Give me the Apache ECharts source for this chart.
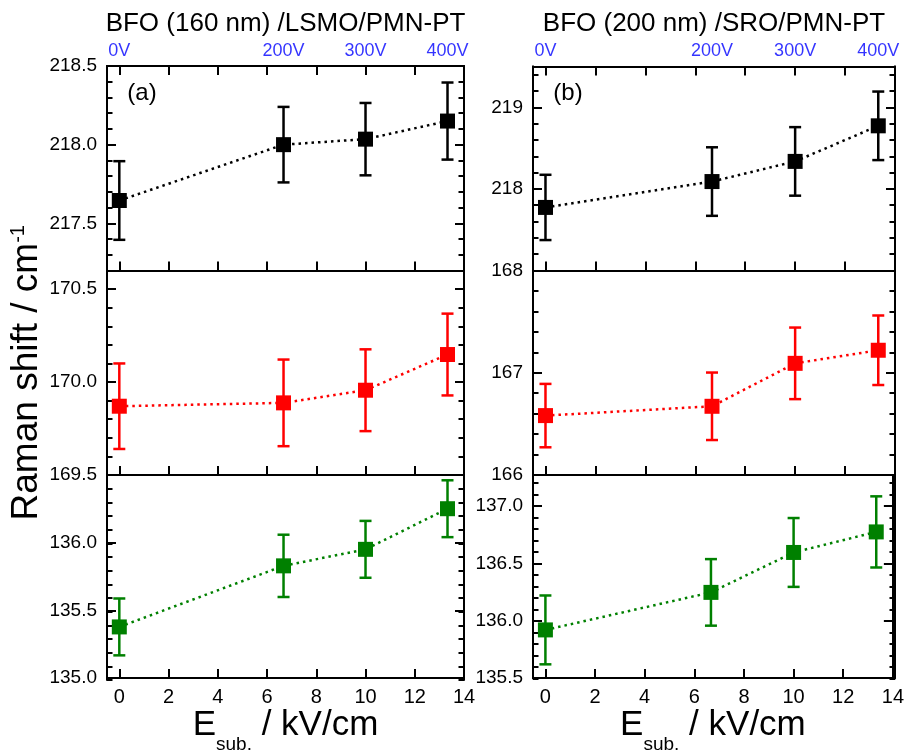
<!DOCTYPE html>
<html><head><meta charset="utf-8">
<script src="https://cdn.jsdelivr.net/npm/echarts@6/dist/echarts.min.js"></script>
<style>html,body{margin:0;padding:0;background:#fff}#c{width:907px;height:755px}</style>
</head><body><div id="c"></div>
<script>
// ---------- data ----------
const xE = [0, 6.67, 10, 13.33];                 // E_sub. (kV/cm)
const vLabels = ['0V', '200V', '300V', '400V'];   // top voltage labels
const xTickLabels = ['0', '2', '4', '6', '8', '10', '12', '14'];

// (a) BFO (160 nm)/LSMO/PMN-PT
const aTopY   = [217.645, 218.0, 218.035, 218.15];
const aTopErr = [0.25, 0.24, 0.23, 0.245];
const aMidY   = [169.87, 169.888, 169.956, 170.148];
const aMidErr = [0.23, 0.233, 0.22, 0.22];
const aBotY   = [135.378, 135.829, 135.951, 136.251];
const aBotErr = [0.21, 0.23, 0.21, 0.21];
// (b) BFO (200 nm)/SRO/PMN-PT
const bTopY   = [217.773, 218.09, 218.337, 218.773];
const bTopErr = [0.40, 0.42, 0.42, 0.42];
const bMidY   = [166.581, 166.672, 167.092, 167.22];
const bMidErr = [0.31, 0.33, 0.35, 0.34];
const bBotY   = [135.92, 136.247, 136.595, 136.774];
const bBotErr = [0.30, 0.29, 0.30, 0.31];

// y tick labels
const aTopTicks = ['217.5', '218.0', '218.5'];
const aMidTicks = ['169.5', '170.0', '170.5'];
const aBotTicks = ['135.0', '135.5', '136.0'];
const bTopTicks = ['218', '219'];
const bMidTicks = ['166', '167', '168'];
const bBotTicks = ['135.5', '136.0', '136.5', '137.0'];

const titles = ['BFO (160 nm) /LSMO/PMN-PT', 'BFO (200 nm) /SRO/PMN-PT'];
const panelTags = ['(a)', '(b)'];

// ---------- layout ----------
const FONT = 'Liberation Sans';
const BLACK = '#000000', RED = '#ff0000', GREEN = '#008000';
const colLeft = [107, 533], colWidth = [357, 362];
const rowTop = [[66, 270.5, 475], [66.5, 270.5, 475]];
const rowH = [[204.5, 204.5, 205], [204, 204.5, 203.5]];

const panels = [
  {col:0,row:0,y:aTopY,err:aTopErr,color:BLACK,min:217.2,max:218.5,split:3,minor:0.1,ticks:aTopTicks,dec:1},
  {col:0,row:1,y:aMidY,err:aMidErr,color:RED,  min:169.5,max:170.6,split:2,minor:0.1,ticks:aMidTicks,dec:1},
  {col:0,row:2,y:aBotY,err:aBotErr,color:GREEN,min:135.0,max:136.5,split:3,minor:0.1,ticks:aBotTicks,dec:1},
  {col:1,row:0,y:bTopY,err:bTopErr,color:BLACK,min:217.0,max:219.5,split:2,minor:0.2,ticks:bTopTicks,dec:0},
  {col:1,row:1,y:bMidY,err:bMidErr,color:RED,  min:166.0,max:168.0,split:2,minor:0.2,ticks:bMidTicks,dec:0},
  {col:1,row:2,y:bBotY,err:bBotErr,color:GREEN,min:135.5,max:137.27,split:3,minor:0.1,ticks:bBotTicks,dec:1}
];

const grid = [], xAxis = [], yAxis = [], series = [];
const lineSt = {color: BLACK, width: 2};

panels.forEach((p) => {
  const L = colLeft[p.col], W = colWidth[p.col], T = rowTop[p.col][p.row], H = rowH[p.col][p.row];
  // main grid
  const gi = grid.length;
  grid.push({left: L, width: W, top: T, height: H});
  const xb = xAxis.length;
  const xBottom = {
    gridIndex: gi, type: 'value', min: -0.5, max: 14, splitNumber: 7, position: 'bottom',
    axisLine: {show: true, onZero: false, lineStyle: lineSt},
    axisTick: {show: true, inside: true, length: 9, lineStyle: lineSt},
    axisLabel: {show: p.row === 2, margin: 9, fontSize: 20, color: BLACK, fontFamily: FONT,
      formatter: v => xTickLabels.includes(String(v)) ? String(v) : ''},
    splitLine: {show: false}
  };
  if (p.row === 2) {
    xBottom.name = '{e|E}{s|sub.}{n| / kV/cm}';
    xBottom.nameLocation = 'middle';
    xBottom.nameGap = 37;
    xBottom.nameTextStyle = {
      rich: {
        e: {fontSize: 35, fontFamily: FONT, color: BLACK, lineHeight: 35, padding: [0, 0, 11, 0], verticalAlign: 'bottom'},
        s: {fontSize: 19, fontFamily: FONT, color: BLACK, lineHeight: 19, verticalAlign: 'bottom'},
        n: {fontSize: 35, fontFamily: FONT, color: BLACK, lineHeight: 35, padding: [0, 0, 11, 0], verticalAlign: 'bottom'}
      }
    };
  }
  xAxis.push(xBottom);
  xAxis.push({
    gridIndex: gi, type: 'value', min: -0.5, max: 14, splitNumber: 7, position: 'top',
    axisLine: {show: true, onZero: false, lineStyle: lineSt},
    axisTick: {show: p.row === 0, inside: true, length: 9, lineStyle: lineSt},
    axisLabel: {show: false}, splitLine: {show: false}
  });
  const yi = yAxis.length;
  const fmt = v => { const s = v.toFixed(p.dec); return p.ticks.includes(s) ? s : ''; };
  const majorL = {
    gridIndex: gi, type: 'value', min: p.min, max: p.max, splitNumber: p.split, position: 'left',
    axisLine: {show: true, onZero: false, lineStyle: lineSt},
    axisTick: {show: true, inside: true, length: 9, lineStyle: lineSt},
    axisLabel: {show: true, margin: 10, fontSize: 19, color: BLACK, fontFamily: FONT, formatter: fmt},
    splitLine: {show: false}
  };
  if (p.col === 0 && p.row === 1) {
    majorL.name = '{a|Raman shift / cm}{b|-1}';
    majorL.nameLocation = 'middle';
    majorL.nameGap = 62;
    majorL.nameTextStyle = {
      rich: {
        a: {fontSize: 37, fontFamily: FONT, color: BLACK, lineHeight: 37, verticalAlign: 'top'},
        b: {fontSize: 20, fontFamily: FONT, color: BLACK, lineHeight: 20, verticalAlign: 'top'}
      }
    };
  }
  yAxis.push(majorL);
  yAxis.push({
    gridIndex: gi, type: 'value', min: p.min, max: p.max, splitNumber: p.split, position: 'right',
    axisLine: {show: true, onZero: false, lineStyle: lineSt},
    axisTick: {show: true, inside: true, length: 9, lineStyle: lineSt},
    axisLabel: {show: false}, splitLine: {show: false}
  });

  // minor ticks: narrow helper grids placed just outside each panel edge,
  // whose axis ticks point outward (i.e. into the panel)
  [[L - 10, 'right'], [L + W, 'left']].forEach(([gl, pos]) => {
    const go = grid.length;
    grid.push({left: gl, width: 10, top: T, height: H});
    xAxis.push({gridIndex: go, type: 'value', min: 0, max: 1, show: false});
    yAxis.push({
      gridIndex: go, type: 'value', min: p.min, max: p.max, interval: p.minor, position: pos,
      axisLine: {show: true, onZero: false, lineStyle: lineSt},
      axisTick: {show: true, inside: false, length: 5.5, lineStyle: lineSt},
      axisLabel: {show: false}, splitLine: {show: false}
    });
  });

  const pts = xE.map((x, k) => [x, p.y[k]]);
  series.push({
    type: 'line', xAxisIndex: xb, yAxisIndex: yi, data: pts, symbol: 'none', silent: true,
    lineStyle: {color: p.color, width: 2.5, type: [2.5, 4]}, z: 2
  });
  series.push({
    type: 'custom', xAxisIndex: xb, yAxisIndex: yi, silent: true, z: 3,
    data: xE.map((x, k) => [x, p.y[k] - p.err[k], p.y[k] + p.err[k]]),
    renderItem: (params, api) => {
      const x = api.value(0);
      const lo = api.coord([x, api.value(1)]);
      const hi = api.coord([x, api.value(2)]);
      const st = {stroke: p.color, lineWidth: 2.5, fill: null};
      const c = 6;
      return {type: 'group', children: [
        {type: 'line', shape: {x1: lo[0], y1: lo[1], x2: hi[0], y2: hi[1]}, style: st},
        {type: 'line', shape: {x1: lo[0] - c, y1: lo[1], x2: lo[0] + c, y2: lo[1]}, style: st},
        {type: 'line', shape: {x1: hi[0] - c, y1: hi[1], x2: hi[0] + c, y2: hi[1]}, style: st}
      ]};
    }
  });
  series.push({
    type: 'scatter', xAxisIndex: xb, yAxisIndex: yi, data: pts, symbol: 'rect', symbolSize: 15,
    itemStyle: {color: p.color, opacity: 1}, z: 4, silent: true
  });
  if (p.row === 0) {
    series.push({
      type: 'scatter', xAxisIndex: xb, yAxisIndex: yi, clip: false, silent: true,
      data: xE.map(x => [x, p.max]), symbolSize: 0,
      label: {show: true, position: 'top', distance: 6, color: '#0000ff', fontSize: 18, fontFamily: FONT,
        formatter: prm => vLabels[prm.dataIndex]}
    });
  }
});

const graphic = [];
titles.forEach((t, c) => {
  graphic.push({type: 'text', x: colLeft[c] + colWidth[c] / 2, y: 24,
    style: {text: t, font: '26px "Liberation Sans"', fill: BLACK, align: 'center', verticalAlign: 'middle', textAlign: 'center', textVerticalAlign: 'middle'}});
  graphic.push({type: 'text', x: colLeft[c] + 35, y: 93,
    style: {text: panelTags[c], font: '24px "Liberation Sans"', fill: BLACK, align: 'center', verticalAlign: 'middle', textAlign: 'center', textVerticalAlign: 'middle'}});
});

const chart = echarts.init(document.getElementById('c'), null, {renderer: 'canvas'});
chart.setOption({
  animation: false,
  backgroundColor: '#ffffff',
  textStyle: {fontFamily: FONT},
  grid, xAxis, yAxis, series, graphic
});
</script></body></html>
